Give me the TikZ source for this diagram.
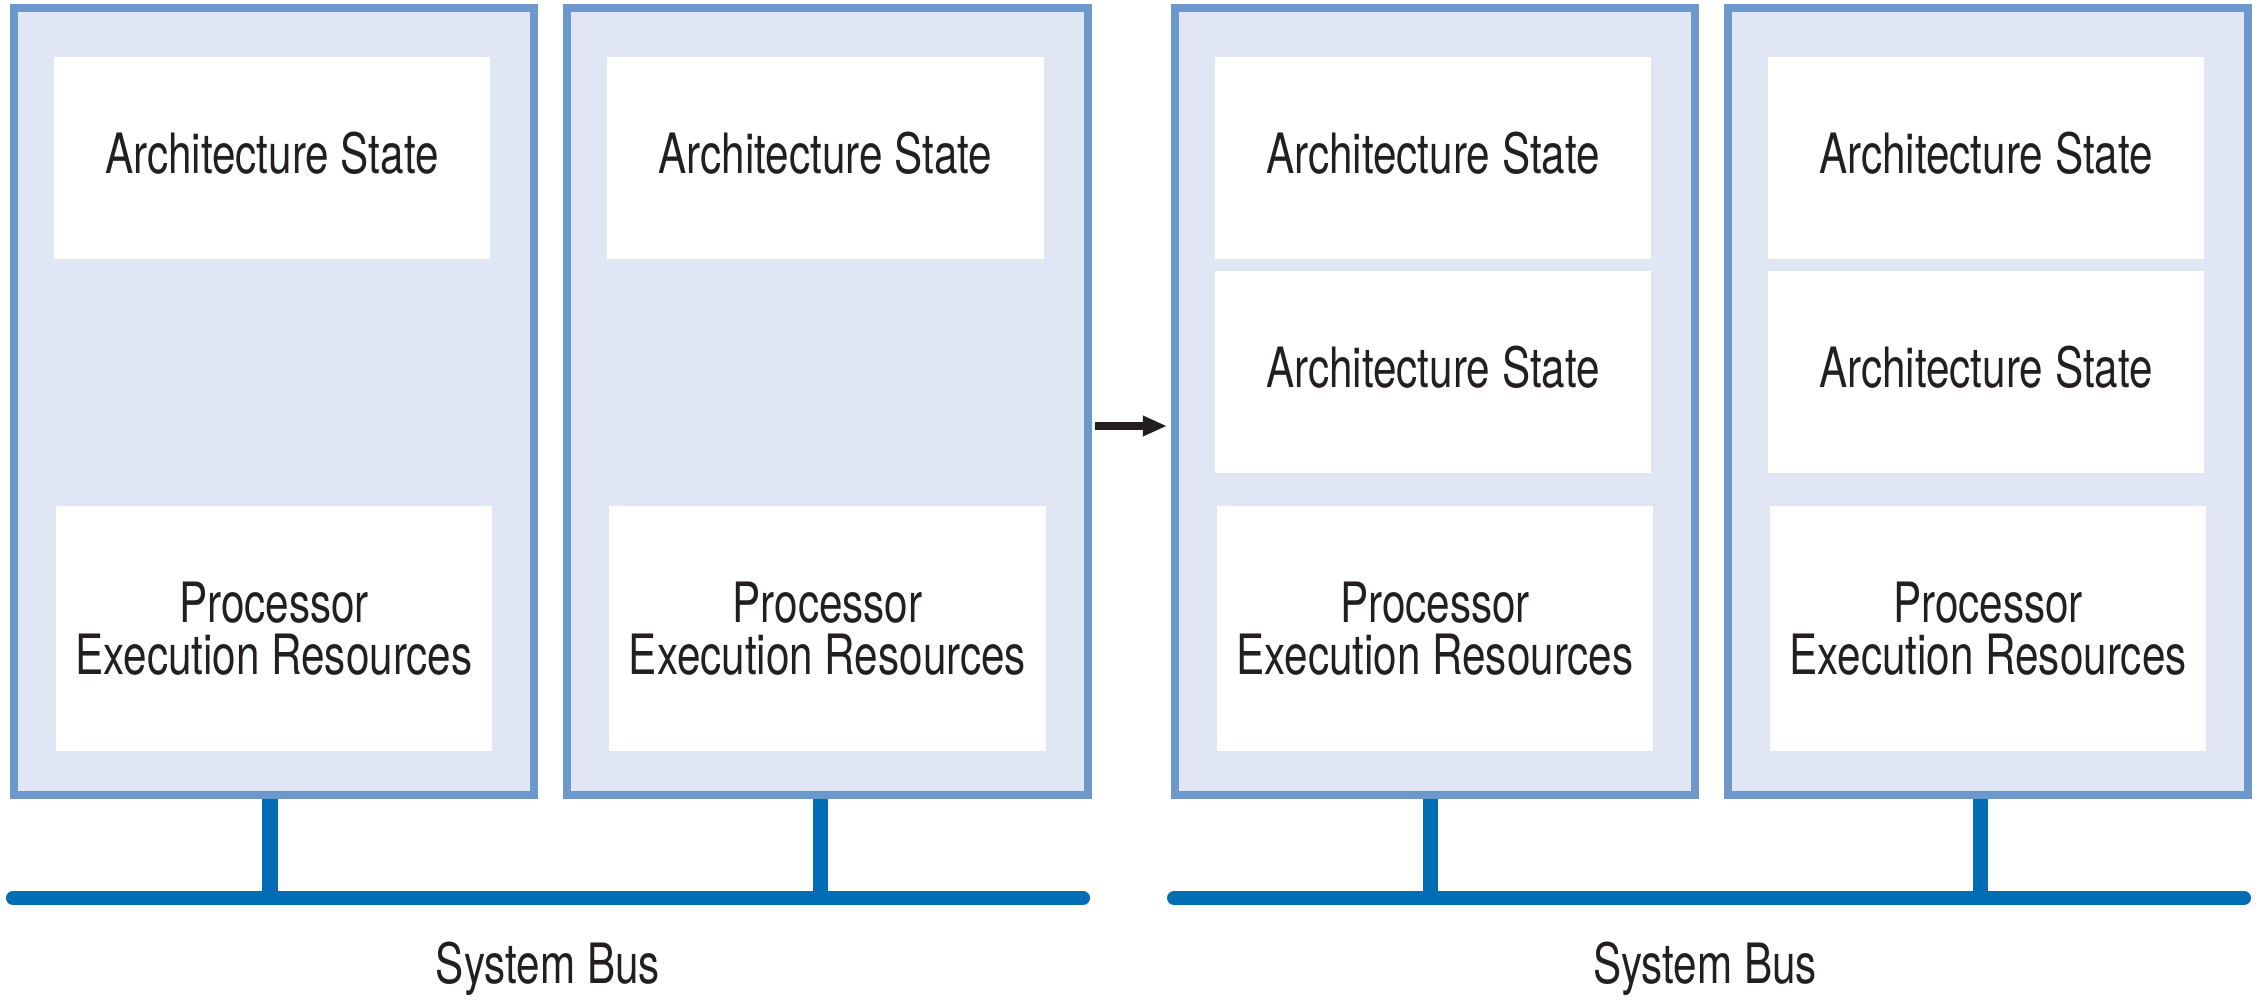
\documentclass[tikz,border=0pt]{standalone}
\usepackage{fontspec}
\setmainfont[FakeStretch=0.76]{TeX Gyre Heros}
\usetikzlibrary{arrows.meta}
\definecolor{cpuedge}{RGB}{108,152,204}
\definecolor{cpufill}{RGB}{224,230,243}
\definecolor{busblue}{RGB}{0,109,181}
\definecolor{ink}{RGB}{35,31,32}
\tikzset{
  cpu/.style={draw=cpuedge, fill=cpufill, line width=0.08cm, minimum width=5.2cm, minimum height=7.87cm, inner sep=0pt},
  archbox/.style={fill=white, minimum width=4.36cm, minimum height=2.02cm, text depth=0.1cm, inner sep=0pt},
  execbox/.style={fill=white, minimum width=4.36cm, minimum height=2.45cm, align=center, execute at begin node={\rule{0pt}{13.6pt}}, inner sep=0pt},
  bus/.style={busblue, line width=0.14cm, line cap=round},
  tap/.style={busblue, line width=0.15cm},
}
\begin{document}
\begin{tikzpicture}[x=0.01cm, y=-0.01cm, font=\fontsize{15.8}{14.8}\selectfont, text=ink]
\useasboundingbox (0,0) rectangle (2260,1000);
\node[cpu] (cpuA) at (274,401.5) {};
\node[archbox] (stateA) at (272,158) {Architecture State};
\node[execbox] (execA) at (274,628.5) {Processor\\Execution Resources};
\node[cpu] (cpuB) at (827.5,401.5) {};
\node[archbox] (stateB) at (825.5,158) {Architecture State};
\node[execbox] (execB) at (827.5,628.5) {Processor\\Execution Resources};
\node[cpu] (cpuC) at (1435,401.5) {};
\node[archbox] (stateC) at (1433,158) {Architecture State};
\node[archbox] (stateCC) at (1433,372) {Architecture State};
\node[execbox] (execC) at (1435,628.5) {Processor\\Execution Resources};
\node[cpu] (cpuD) at (1988,401.5) {};
\node[archbox] (stateD) at (1986,158) {Architecture State};
\node[archbox] (stateDD) at (1986,372) {Architecture State};
\node[execbox] (execD) at (1988,628.5) {Processor\\Execution Resources};
\coordinate (arrowfrom) at (1095,426);
\coordinate (arrowto) at (1167,426);
\draw[ink, line width=0.08cm, -{Triangle[length=0.24cm,width=0.19cm]}] (arrowfrom) -- (arrowto);
\coordinate (busAwest) at (13,898);
\coordinate (busAeast) at (1083,898);
\coordinate (busBwest) at (1174,898);
\coordinate (busBeast) at (2244,898);
\coordinate (tapA) at (270,898);
\coordinate (tapB) at (820,898);
\coordinate (tapC) at (1430,898);
\coordinate (tapD) at (1980,898);
\draw[tap] (tapA) -- (tapA |- cpuA.south);
\draw[tap] (tapB) -- (tapB |- cpuB.south);
\draw[tap] (tapC) -- (tapC |- cpuC.south);
\draw[tap] (tapD) -- (tapD |- cpuD.south);
\draw[bus] (busAwest) -- (busAeast);
\draw[bus] (busBwest) -- (busBeast);
\node[anchor=base] (busAlabel) at (548,983) {System Bus};
\node[anchor=base] (busBlabel) at (1705,983) {System Bus};
\end{tikzpicture}
\end{document}
